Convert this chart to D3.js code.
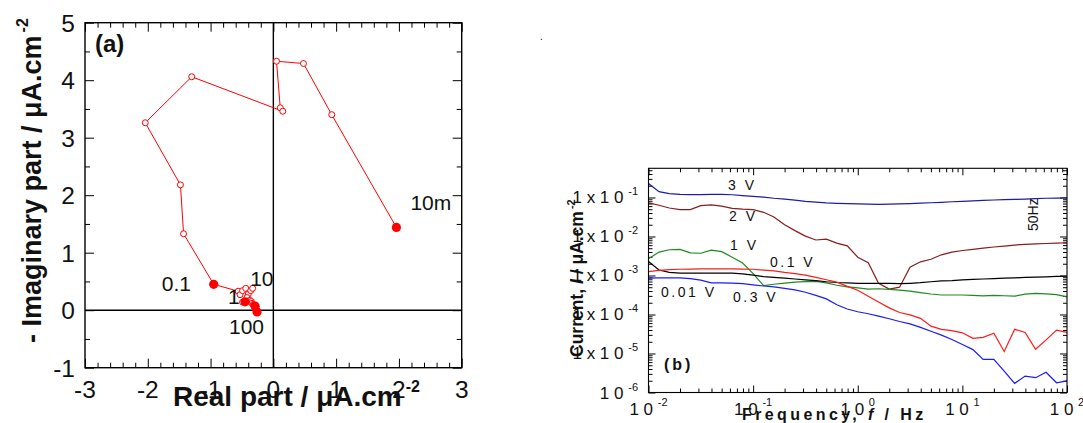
<!DOCTYPE html>
<html><head><meta charset="utf-8">
<script src="https://cdn.jsdelivr.net/npm/d3@7"></script>
<style>body{margin:0;background:#fff}svg{display:block}text{font-family:"Liberation Sans",Arial,sans-serif;fill:#111}</style>
</head><body><svg id="c" width="1083" height="423"></svg>
<script>
// ---------- Panel (a): Nyquist-type plot ----------
const nyqRe = [1.96,0.93,0.48,0.05,0.11,0.15,-1.30,-2.04,-1.48,-1.43,-0.95,-0.56,-0.53,-0.49,-0.44,-0.40,-0.36,-0.33,-0.42,-0.49,-0.45,-0.40,-0.37,-0.35,-0.34,-0.32,-0.31,-0.30,-0.30,-0.29,-0.29,-0.29,-0.28,-0.28,-0.27,-0.27,-0.27,-0.265,-0.26,-0.26,-0.26];
const nyqIm = [1.44,3.40,4.29,4.33,3.52,3.46,4.06,3.26,2.18,1.33,0.45,0.33,0.27,0.34,0.38,0.28,0.34,0.38,0.22,0.14,0.145,0.16,0.17,0.15,0.12,0.10,0.09,0.08,0.07,0.07,0.07,0.05,0.03,0.02,0.01,0.0,-0.01,-0.02,-0.02,-0.03,-0.03];
const nyqMarked = [0,10,20,30,40];
const nyqLabels = ["10m","0.1","1","10","100"];
const aXTicks = [-3,-2,-1,0,1,2,3];
const aYTicks = [-1,0,1,2,3,4,5];

// ---------- Panel (b): current vs frequency ----------
const freqHz = [0.01,0.0126,0.0158,0.02,0.0251,0.0316,0.0398,0.0501,0.0631,0.0794,0.1,0.126,0.158,0.2,0.251,0.316,0.398,0.501,0.631,0.794,1,1.26,1.58,2,2.51,3.16,3.98,5.01,6.31,7.94,10,12.6,15.8,20,25.1,31.6,39.8,50.1,63.1,79.4,100];
// log10 of current (µA.cm-2) for each applied amplitude
const log3V = [-0.64,-0.85,-0.9,-0.92,-0.925,-0.925,-0.92,-0.92,-0.93,-0.95,-0.97,-0.99,-1.02,-1.04,-1.07,-1.1,-1.12,-1.14,-1.15,-1.16,-1.165,-1.17,-1.175,-1.17,-1.165,-1.155,-1.145,-1.135,-1.125,-1.11,-1.1,-1.085,-1.075,-1.065,-1.055,-1.05,-1.04,-1.03,-1.02,-1.015,-1.01];
const log2V = [-1.14,-1.2,-1.27,-1.31,-1.31,-1.21,-1.19,-1.22,-1.28,-1.30,-1.31,-1.38,-1.50,-1.70,-1.85,-1.99,-2.09,-2.07,-2.17,-2.24,-2.53,-2.67,-3.2,-3.35,-3.30,-2.79,-2.65,-2.585,-2.47,-2.40,-2.36,-2.33,-2.30,-2.27,-2.245,-2.22,-2.20,-2.19,-2.18,-2.17,-2.16];
const log1V = [-2.57,-2.40,-2.34,-2.33,-2.42,-2.43,-2.35,-2.39,-2.53,-2.68,-2.95,-3.26,-3.225,-3.195,-3.17,-3.155,-3.15,-3.19,-3.25,-3.29,-3.32,-3.35,-3.34,-3.355,-3.375,-3.40,-3.44,-3.475,-3.50,-3.50,-3.50,-3.51,-3.525,-3.51,-3.52,-3.53,-3.48,-3.46,-3.47,-3.49,-3.55];
const log001V = [-2.64,-2.86,-2.92,-2.94,-2.94,-2.94,-2.94,-2.94,-2.94,-2.96,-2.99,-3.03,-3.05,-3.07,-3.09,-3.11,-3.13,-3.16,-3.18,-3.19,-3.2,-3.2,-3.2,-3.2,-3.21,-3.2,-3.185,-3.16,-3.14,-3.13,-3.11,-3.10,-3.09,-3.08,-3.07,-3.06,-3.05,-3.04,-3.035,-3.025,-3.02];
const log01V = [-2.90,-2.87,-2.85,-2.84,-2.835,-2.83,-2.83,-2.83,-2.83,-2.835,-2.84,-2.86,-2.88,-2.92,-2.95,-2.99,-3.05,-3.11,-3.17,-3.28,-3.38,-3.53,-3.68,-3.83,-3.95,-4.01,-4.10,-4.30,-4.38,-4.415,-4.47,-4.61,-4.585,-4.48,-4.95,-4.38,-4.46,-4.89,-4.65,-4.40,-4.46];
const log03V = [-3.07,-3.06,-3.06,-3.06,-3.08,-3.12,-3.19,-3.19,-3.195,-3.21,-3.24,-3.27,-3.29,-3.33,-3.37,-3.43,-3.51,-3.60,-3.75,-3.86,-3.93,-3.98,-4.04,-4.11,-4.18,-4.24,-4.33,-4.43,-4.53,-4.64,-4.77,-4.90,-5.15,-5.15,-5.45,-5.765,-5.58,-5.62,-5.48,-5.75,-5.70];
const seriesNames = ["3 V","2 V","1 V","0.01 V","0.1 V","0.3 V"];
const bXTicks = [0.01,0.1,1,10,100];
const bXExp = ["-2","-1","0","1","2"];
const bYTicks = [1e-6,1e-5,1e-4,1e-3,1e-2,1e-1];
const bYExp = ["-6","-5","-4","-3","-2","-1"];

const svg = d3.select("#c");

function axisPart(g, fn, scale, values, size, tr){
  g.append("g").attr("transform", tr)
   .call(fn(scale).tickValues(values).tickSize(size).tickFormat(""))
   .call(s => s.select(".domain").remove())
   .call(s => s.selectAll("line").attr("stroke","#000"));
}

// ===== Panel A =====
const xA = d3.scaleLinear([-3,3],[85,461.7]);
const yA = d3.scaleLinear([-1,5],[367.7,22.7]);
const gA = svg.append("g");
const isInt = v => Math.abs(v - Math.round(v)) < 1e-6;
const aXMinor = d3.range(-3, 3.0001, 0.2).filter(v => !isInt(v));
const aYMinor = d3.range(-1, 5.0001, 0.5).filter(v => !isInt(v));
[[d3.axisBottom, xA, "translate(0,367.7)"],[d3.axisTop, xA, "translate(0,22.7)"]].forEach(([f,s,t])=>{
  axisPart(gA, f, s, aXTicks, -9, t); axisPart(gA, f, s, aXMinor, -5, t);
});
[[d3.axisLeft, yA, "translate(85,0)"],[d3.axisRight, yA, "translate(461.7,0)"]].forEach(([f,s,t])=>{
  axisPart(gA, f, s, aYTicks, -9, t); axisPart(gA, f, s, aYMinor, -5, t);
});
gA.append("line").attr("x1",xA(-3)).attr("x2",xA(3)).attr("y1",yA(0)).attr("y2",yA(0)).attr("stroke","#000").attr("stroke-width",1.4);
gA.append("line").attr("x1",xA(0)).attr("x2",xA(0)).attr("y1",yA(-1)).attr("y2",yA(5)).attr("stroke","#000").attr("stroke-width",1.4);
gA.append("rect").attr("x",xA(-3)).attr("y",yA(5)).attr("width",xA(3)-xA(-3)).attr("height",yA(-1)-yA(5))
  .attr("fill","none").attr("stroke","#000").attr("stroke-width",1.4);

gA.selectAll(".ayl").data(aYTicks).join("text").attr("x",75).attr("y",d=>yA(d)).attr("dy","0.36em")
  .attr("text-anchor","end").attr("font-size",24.5).text(d=>d);
gA.selectAll(".axl").data(aXTicks).join("text").attr("x",d=>xA(d)).attr("y",398)
  .attr("text-anchor","middle").attr("font-size",24.5).text(d=>d);

const idx = d3.range(nyqRe.length);
gA.append("path").attr("d", d3.line().x(i=>xA(nyqRe[i])).y(i=>yA(nyqIm[i]))(idx))
  .attr("fill","none").attr("stroke","#ff0000").attr("stroke-width",1);
gA.selectAll(".op").data(idx.filter(i=>!nyqMarked.includes(i))).join("circle")
  .attr("cx",i=>xA(nyqRe[i])).attr("cy",i=>yA(nyqIm[i])).attr("r",3)
  .attr("fill","#fff").attr("stroke","#ff0000").attr("stroke-width",1);
gA.selectAll(".fp").data(nyqMarked).join("circle")
  .attr("cx",i=>xA(nyqRe[i])).attr("cy",i=>yA(nyqIm[i])).attr("r",4.6).attr("fill","#ff0000");
const nyqLabOff = [[14,-17],[-52,7],[-17,2],[-5,-20],[-28,22]];
gA.selectAll(".nl").data(nyqMarked).join("text")
  .attr("x",(i,k)=>xA(nyqRe[i])+nyqLabOff[k][0]).attr("y",(i,k)=>yA(nyqIm[i])+nyqLabOff[k][1])
  .attr("font-size",21).text((i,k)=>nyqLabels[k]);
gA.append("text").attr("x",95).attr("y",52).attr("font-size",24).attr("font-weight","bold").text("(a)");

const xt = gA.append("text").attr("x",173).attr("y",406).attr("font-size",28).attr("font-weight","bold");
xt.append("tspan").text("Real part / μA.cm");
xt.append("tspan").attr("dx",4).attr("dy",-14).attr("font-size",16).text("-2");

const yt = gA.append("text").attr("transform","translate(41,343) rotate(-90)").attr("font-size",27).attr("font-weight","bold");
yt.append("tspan").text("- Imaginary part / μA.cm");
yt.append("tspan").attr("dx",3).attr("dy",-13).attr("font-size",16).text("-2");

// ===== Panel B =====
const xB = d3.scaleLog([0.01,100],[648.5,1067]);
const yB = d3.scaleLog([1e-6,0.56],[392.5,168.3]);
const gB = svg.append("g");
const bXMinor = [], bYMinor = [];
[-2,-1,0,1].forEach(e=>{for(let k=2;k<=9;k++) bXMinor.push(k*Math.pow(10,e));});
[-6,-5,-4,-3,-2,-1].forEach(e=>{for(let k=2;k<=9;k++){const v=k*Math.pow(10,e); if(v<=0.56) bYMinor.push(v);}});
[[d3.axisBottom,"translate(0,392.5)"],[d3.axisTop,"translate(0,168.3)"]].forEach(([f,t])=>{
  axisPart(gB, f, xB, bXTicks, -7, t); axisPart(gB, f, xB, bXMinor, -4, t);
});
[[d3.axisLeft,"translate(648.5,0)"],[d3.axisRight,"translate(1067,0)"]].forEach(([f,t])=>{
  axisPart(gB, f, yB, bYTicks, -7, t); axisPart(gB, f, yB, bYMinor, -4, t);
});

const bSeries = [log3V, log2V, log1V, log001V, log01V, log03V];
const bColors = ["#1c1ca8","#8b1c1c","#1f8a1f","#000000","#ff1a1a","#1a1aff"];
const lineB = d3.line().x((d,i)=>xB(freqHz[i])).y(d=>yB(Math.pow(10,d)));
gB.selectAll(".sl").data(bSeries).join("path").attr("d",d=>lineB(d))
  .attr("fill","none").attr("stroke",(d,i)=>bColors[i]).attr("stroke-width",1.2);

gB.append("rect").attr("x",648.5).attr("y",168.3).attr("width",1067-648.5).attr("height",392.5-168.3)
  .attr("fill","none").attr("stroke","#000").attr("stroke-width",1.1);

// y tick labels
bYTicks.forEach((v,i)=>{
  const t = gB.append("text").attr("x",638).attr("y",yB(v)+6).attr("text-anchor","end").attr("font-size",17);
  t.append("tspan").text(v===1e-6 ? "1 0 " : "1 x 1 0 ");
  t.append("tspan").attr("dy",-8).attr("font-size",11).text(bYExp[i]);
});
// x tick labels
bXTicks.forEach((v,i)=>{
  const t = gB.append("text").attr("x",xB(v)).attr("y",415).attr("text-anchor","middle").attr("font-size",17);
  t.append("tspan").text("1 0 ");
  t.append("tspan").attr("dy",-9).attr("font-size",11).text(bXExp[i]);
});
// axis titles
const bx = gB.append("text").attr("x",742).attr("y",420).attr("font-size",16).attr("font-weight","bold").attr("letter-spacing",3.4);
bx.append("tspan").text("Frequency, ");
bx.append("tspan").attr("font-style","italic").text("f");
bx.append("tspan").text(" / Hz");
const by = gB.append("text").attr("transform","translate(583,357) rotate(-90)").attr("font-size",17.5).attr("font-weight","bold");
by.append("tspan").text("Current, ");
by.append("tspan").attr("font-style","italic").text("I");
by.append("tspan").text(" / μA.cm");
by.append("tspan").attr("dx",2).attr("dy",-8).attr("font-size",11).text("-2");

gB.append("text").attr("x",664).attr("y",370).attr("font-size",16).attr("font-weight","bold").attr("letter-spacing",3).text("(b)");

const seriesLabPos = [[728,190],[729,221],[730,250],[661,297],[770,267],[733,302]];
gB.selectAll(".cl").data(seriesNames).join("text")
  .attr("x",(d,i)=>seriesLabPos[i][0]).attr("y",(d,i)=>seriesLabPos[i][1])
  .attr("font-size",14).attr("letter-spacing",2.5).text(d=>d);
gB.append("text").attr("transform","translate(1038,231) rotate(-90)").attr("font-size",14).text("50Hz");
svg.append("text").attr("x",540).attr("y",40).attr("font-size",10).attr("fill","#666").text(".");
</script></body></html>
